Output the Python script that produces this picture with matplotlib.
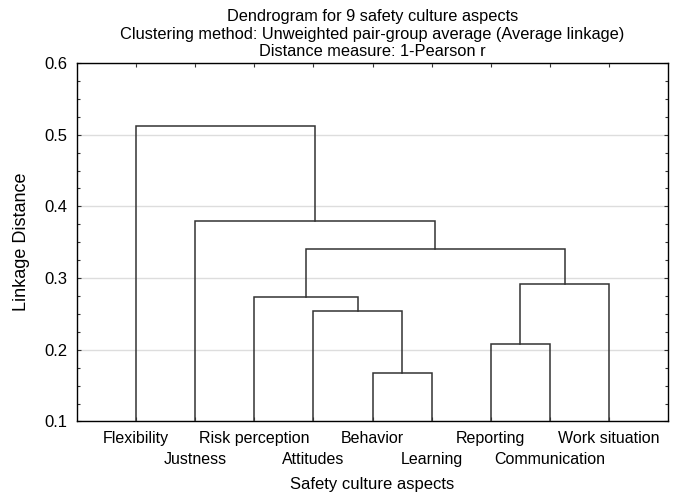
import numpy as np
import matplotlib
matplotlib.use('Agg')
import matplotlib.pyplot as plt
from matplotlib.ticker import MultipleLocator

plt.rcParams['font.family'] = ['Liberation Sans', 'DejaVu Sans']

# leaves in dendrogram order
labels = ['Flexibility', 'Justness', 'Risk perception', 'Attitudes', 'Behavior',
          'Learning', 'Reporting', 'Communication', 'Work situation']

# merges: (left child, right child) ; ids 0-8 are leaves, 9+ are new clusters
merge_left = [4, 3, 2, 6, 12, 11, 1, 0]
merge_right = [5, 9, 10, 7, 8, 13, 14, 15]
merge_height = [0.168, 0.254, 0.274, 0.208, 0.292, 0.340, 0.380, 0.512]

n = len(labels)
xpos = {i: i + 1 for i in range(n)}
ypos = {i: 0.1 for i in range(n)}

fig = plt.figure(figsize=(6.82, 4.94), dpi=100)
ax = fig.add_axes([0.1129, 0.1468, 0.8666, 0.7257])

for k, (l, r, h) in enumerate(zip(merge_left, merge_right, merge_height)):
    node = n + k
    x1, x2 = xpos[l], xpos[r]
    ax.plot([x1, x1, x2, x2], [ypos[l], h, h, ypos[r]], color='#333333', lw=1.1,
            solid_joinstyle='miter', zorder=3)
    xpos[node] = (x1 + x2) / 2
    ypos[node] = h

ax.set_xlim(0, 10)
ax.set_ylim(0.1, 0.6)
yt = np.arange(0.1, 0.61, 0.1)
ax.set_yticks(yt)
ax.set_yticklabels(['%.1f' % v for v in yt])
ax.yaxis.set_minor_locator(MultipleLocator(0.025))

# alternate leaf labels on two rows: odd leaves on major ticks, even on minor
pos = np.arange(1, n + 1)
ax.set_xticks(pos[0::2])
ax.set_xticklabels(labels[0::2])
ax.set_xticks(pos[1::2], minor=True)
ax.set_xticklabels(labels[1::2], minor=True)

ax.grid(axis='y', color='#dddddd', lw=1, zorder=0)
ax.tick_params(which='both', direction='in', top=True, right=True,
               length=3, width=0.8, color='#333333')
ax.tick_params(axis='y', which='minor', length=2)
ax.tick_params(axis='y', which='major', labelsize=12, pad=7)
ax.tick_params(axis='x', which='major', labelsize=11.5, pad=7)
ax.tick_params(axis='x', which='minor', labelsize=11.5, pad=22, length=3)
for s in ax.spines.values():
    s.set_linewidth(1.0)

ax.set_xlabel('Safety culture aspects', fontsize=12, labelpad=7)
ax.set_ylabel('Linkage Distance', fontsize=13, labelpad=10)
ax.set_title('Dendrogram for 9 safety culture aspects\n'
             'Clustering method: Unweighted pair-group average (Average linkage)\n'
             'Distance measure: 1-Pearson r', fontsize=11.8, pad=5, linespacing=1.2)

fig.savefig('out.png', dpi=100)
